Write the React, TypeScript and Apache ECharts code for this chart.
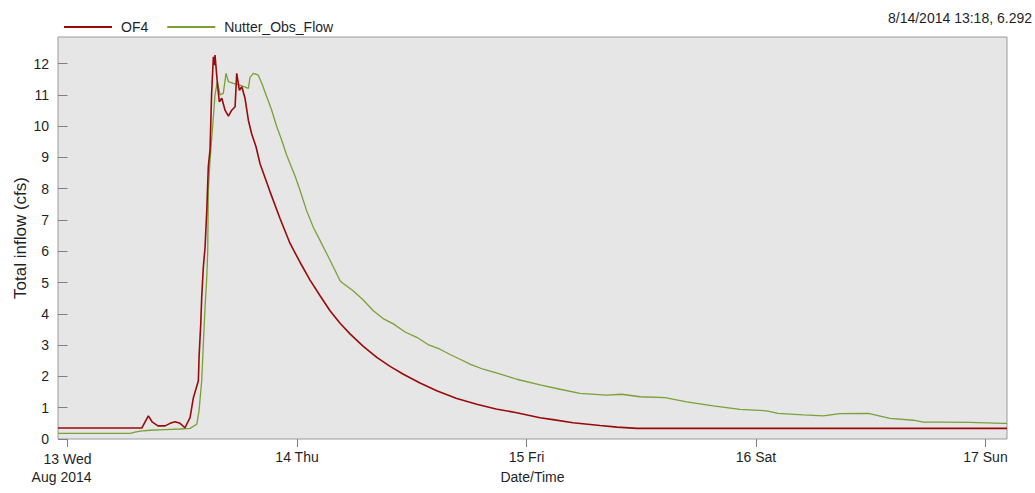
import React, { useEffect, useRef } from "react";
import * as echarts from "echarts";

// Hours since 13 Aug 2014 00:00 and values (cfs)
const of4Hours = [
  -1.0, 7.76, 8.45, 8.84, 9.46, 10.2, 10.72, 11.24, 11.76, 12.28, 12.81, 13.16, 13.68, 13.75, 13.93,
  14.03, 14.2, 14.38, 14.56, 14.72, 14.9, 15.06, 15.25, 15.34, 15.42, 15.67, 15.87, 16.13, 16.47,
  16.82, 17.17, 17.52, 17.69, 17.97, 18.22, 18.56, 18.91, 19.26, 19.71, 20.13, 21.18, 22.22, 23.27,
  24.31, 25.36, 26.41, 27.45, 28.5, 29.54, 30.9, 32.34, 33.73, 35.12, 36.86, 38.61, 40.63, 42.79,
  44.81, 46.98, 49.41, 50.77, 52.86, 55.69, 57.46, 59.56, 98.25,
];
const of4Values = [
  0.35, 0.35, 0.74, 0.55, 0.42, 0.42, 0.5, 0.55, 0.5, 0.36, 0.68, 1.32, 1.86, 2.6, 3.68,
  4.53, 5.49, 6.13, 7.3, 8.7, 9.24, 11.0, 12.22, 11.95, 12.27, 11.37, 10.78, 10.89, 10.51,
  10.32, 10.51, 10.62, 11.69, 11.15, 11.26, 10.89, 10.19, 9.75, 9.34, 8.8, 7.9, 7.05, 6.25,
  5.65, 5.08, 4.58, 4.1, 3.7, 3.36, 2.97, 2.61, 2.32, 2.07, 1.79, 1.54, 1.3, 1.11,
  0.96, 0.84, 0.68, 0.62, 0.52, 0.43, 0.38, 0.34, 0.34,
];

const obsHours = [
  -1.0, 6.54, 7.06, 7.58, 8.63, 10.2, 11.76, 12.81, 13.51, 13.75, 14.03, 14.2, 14.38, 14.56, 14.66,
  14.72, 14.9, 15.25, 15.42, 15.67, 15.95, 16.29, 16.57, 16.82, 17.34, 18.04, 18.91, 19.08, 19.43,
  19.95, 20.31, 20.83, 21.35, 21.88, 22.4, 22.92, 23.27, 23.8, 24.31, 25.0, 25.7, 26.4, 27.11,
  27.8, 28.5, 28.8, 29.86, 30.9, 31.98, 33.0, 34.07, 35.3, 36.52, 37.7, 38.95, 40.0, 41.05,
  42.2, 43.48, 45.2, 46.98, 49.41, 51.5, 53.59, 56.39, 57.95, 59.87, 62.48, 64.75,
  67.53, 70.33, 73.12, 74.3, 76.95, 79.04, 80.78, 83.74, 86.01, 88.45, 89.5, 91.58, 94.37, 97.83, 98.25,
];
const obsValues = [
  0.18, 0.18, 0.22, 0.25, 0.28, 0.3, 0.32, 0.34, 0.47, 0.9, 1.86, 3.04, 4.21, 5.17, 6.03,
  7.95, 8.91, 10.3, 11.0, 11.42, 11.0, 11.05, 11.69, 11.42, 11.37, 11.31, 11.21, 11.56, 11.69,
  11.63, 11.37, 10.94, 10.51, 9.98, 9.55, 9.07, 8.8, 8.4, 7.95, 7.3, 6.77, 6.35, 5.92,
  5.5, 5.06, 4.98, 4.74, 4.45, 4.1, 3.85, 3.68, 3.42, 3.25, 3.02, 2.87, 2.7, 2.55,
  2.38, 2.23, 2.08, 1.91, 1.73, 1.59, 1.46, 1.4, 1.43, 1.35, 1.32, 1.19,
  1.06, 0.95, 0.9, 0.82, 0.77, 0.74, 0.81, 0.82, 0.66, 0.6, 0.54, 0.54, 0.53, 0.5, 0.5,
];

const dayTicks = [0, 24, 48, 72, 96];
const dayNames = ["13 Wed", "14 Thu", "15 Fri", "16 Sat", "17 Sun"];
const monthLabel = "Aug 2014";
const yTicks = [0, 1, 2, 3, 4, 5, 6, 7, 8, 9, 10, 11, 12];
const seriesNames = ["OF4", "Nutter_Obs_Flow"];
const cursorReadout = "8/14/2014 13:18, 6.292";

const FONT = "'Liberation Sans', Arial, sans-serif";
const TXT = "#1f1f2a";
const RED = "#990a0a";
const GREEN = "#7aa036";

export default function App() {
  const ref = useRef<HTMLDivElement>(null);
  useEffect(() => {
    if (!ref.current) return;
    const chart = echarts.init(ref.current, undefined, { renderer: "svg" });
    const of4 = of4Hours.map((h, i) => [h, of4Values[i]]);
    const obs = obsHours.map((h, i) => [h, obsValues[i]]);
    const xMin = of4Hours[0];
    const xMax = of4Hours[of4Hours.length - 1];
    chart.setOption({
      animation: false,
      backgroundColor: "#ffffff",
      textStyle: { fontFamily: FONT },
      legend: {
        left: 59,
        top: 15,
        itemWidth: 48,
        itemHeight: 2,
        itemGap: 19,
        icon: "rect",
        textStyle: { fontSize: 14, color: TXT, fontFamily: FONT, padding: [0, 0, 0, 4] },
        data: seriesNames,
      },
      graphic: [
        {
          type: "text",
          right: 3,
          top: 11,
          style: { text: cursorReadout, fontSize: 14, fill: TXT, fontFamily: FONT },
        },
      ],
      grid: {
        left: 58,
        top: 37,
        right: 28,
        bottom: 54,
        show: true,
        backgroundColor: "#e6e6e6",
        borderColor: "#9a9a9a",
        borderWidth: 1,
        outerBoundsMode: "none",
        containLabel: false,
      },
      xAxis: {
        type: "value",
        min: xMin,
        max: xMax,
        name: "Date/Time",
        nameLocation: "middle",
        nameGap: 31,
        nameMoveOverlap: false,
        nameTextStyle: { fontSize: 14, color: TXT, fontFamily: FONT },
        axisLine: { show: false },
        splitLine: { show: false },
        axisTick: {
          show: true,
          inside: false,
          length: 8,
          lineStyle: { color: "#808080" },
          customValues: dayTicks,
        },
        axisLabel: {
          margin: 11,
          fontSize: 14,
          color: TXT,
          fontFamily: FONT,
          customValues: dayTicks,
          formatter: (v: number) => {
            const i = dayTicks.indexOf(Math.round(v));
            if (i === 0) return `{w|${dayNames[0]}}\n{d|${monthLabel}}`;
            return i >= 0 ? dayNames[i] : "";
          },
          rich: {
            w: { fontSize: 14, color: TXT, fontFamily: FONT, lineHeight: 18, padding: [0, 12, 0, 12] },
            d: { fontSize: 14, color: TXT, fontFamily: FONT, lineHeight: 18, padding: [0, 12, 0, 0] },
          },
        },
      },
      yAxis: [
        {
          type: "value",
          min: 0,
          max: 12.85,
          position: "left",
          name: "Total inflow (cfs)",
          nameLocation: "middle",
          nameGap: 29,
          nameMoveOverlap: false,
          nameTextStyle: { fontSize: 17, color: TXT, fontFamily: FONT },
          axisLine: { show: false },
          splitLine: { show: false },
          axisTick: {
            show: true,
            inside: false,
            length: 7,
            lineStyle: { color: "#808080" },
            customValues: yTicks,
          },
          axisLabel: {
            margin: 9,
            fontSize: 14,
            color: TXT,
            fontFamily: FONT,
            customValues: yTicks,
          },
        },
        {
          type: "value",
          min: 0,
          max: 12.85,
          position: "left",
          axisLine: { show: false },
          splitLine: { show: false },
          axisLabel: { show: false },
          axisTick: {
            show: true,
            inside: true,
            length: 8,
            lineStyle: { color: "#808080" },
            customValues: yTicks,
          },
        },
      ],
      series: [
        {
          name: seriesNames[0],
          type: "line",
          data: of4,
          showSymbol: false,
          symbol: "none",
          lineStyle: { color: RED, width: 1.6 },
          itemStyle: { color: RED },
          z: 3,
        },
        {
          name: seriesNames[1],
          type: "line",
          data: obs,
          showSymbol: false,
          symbol: "none",
          lineStyle: { color: GREEN, width: 1.3 },
          itemStyle: { color: GREEN },
          z: 2,
        },
      ],
    });
    return () => chart.dispose();
  }, []);
  return (
    <div
      ref={ref}
      style={{ position: "fixed", left: 0, top: 0, width: 1035, height: 493 }}
    />
  );
}
